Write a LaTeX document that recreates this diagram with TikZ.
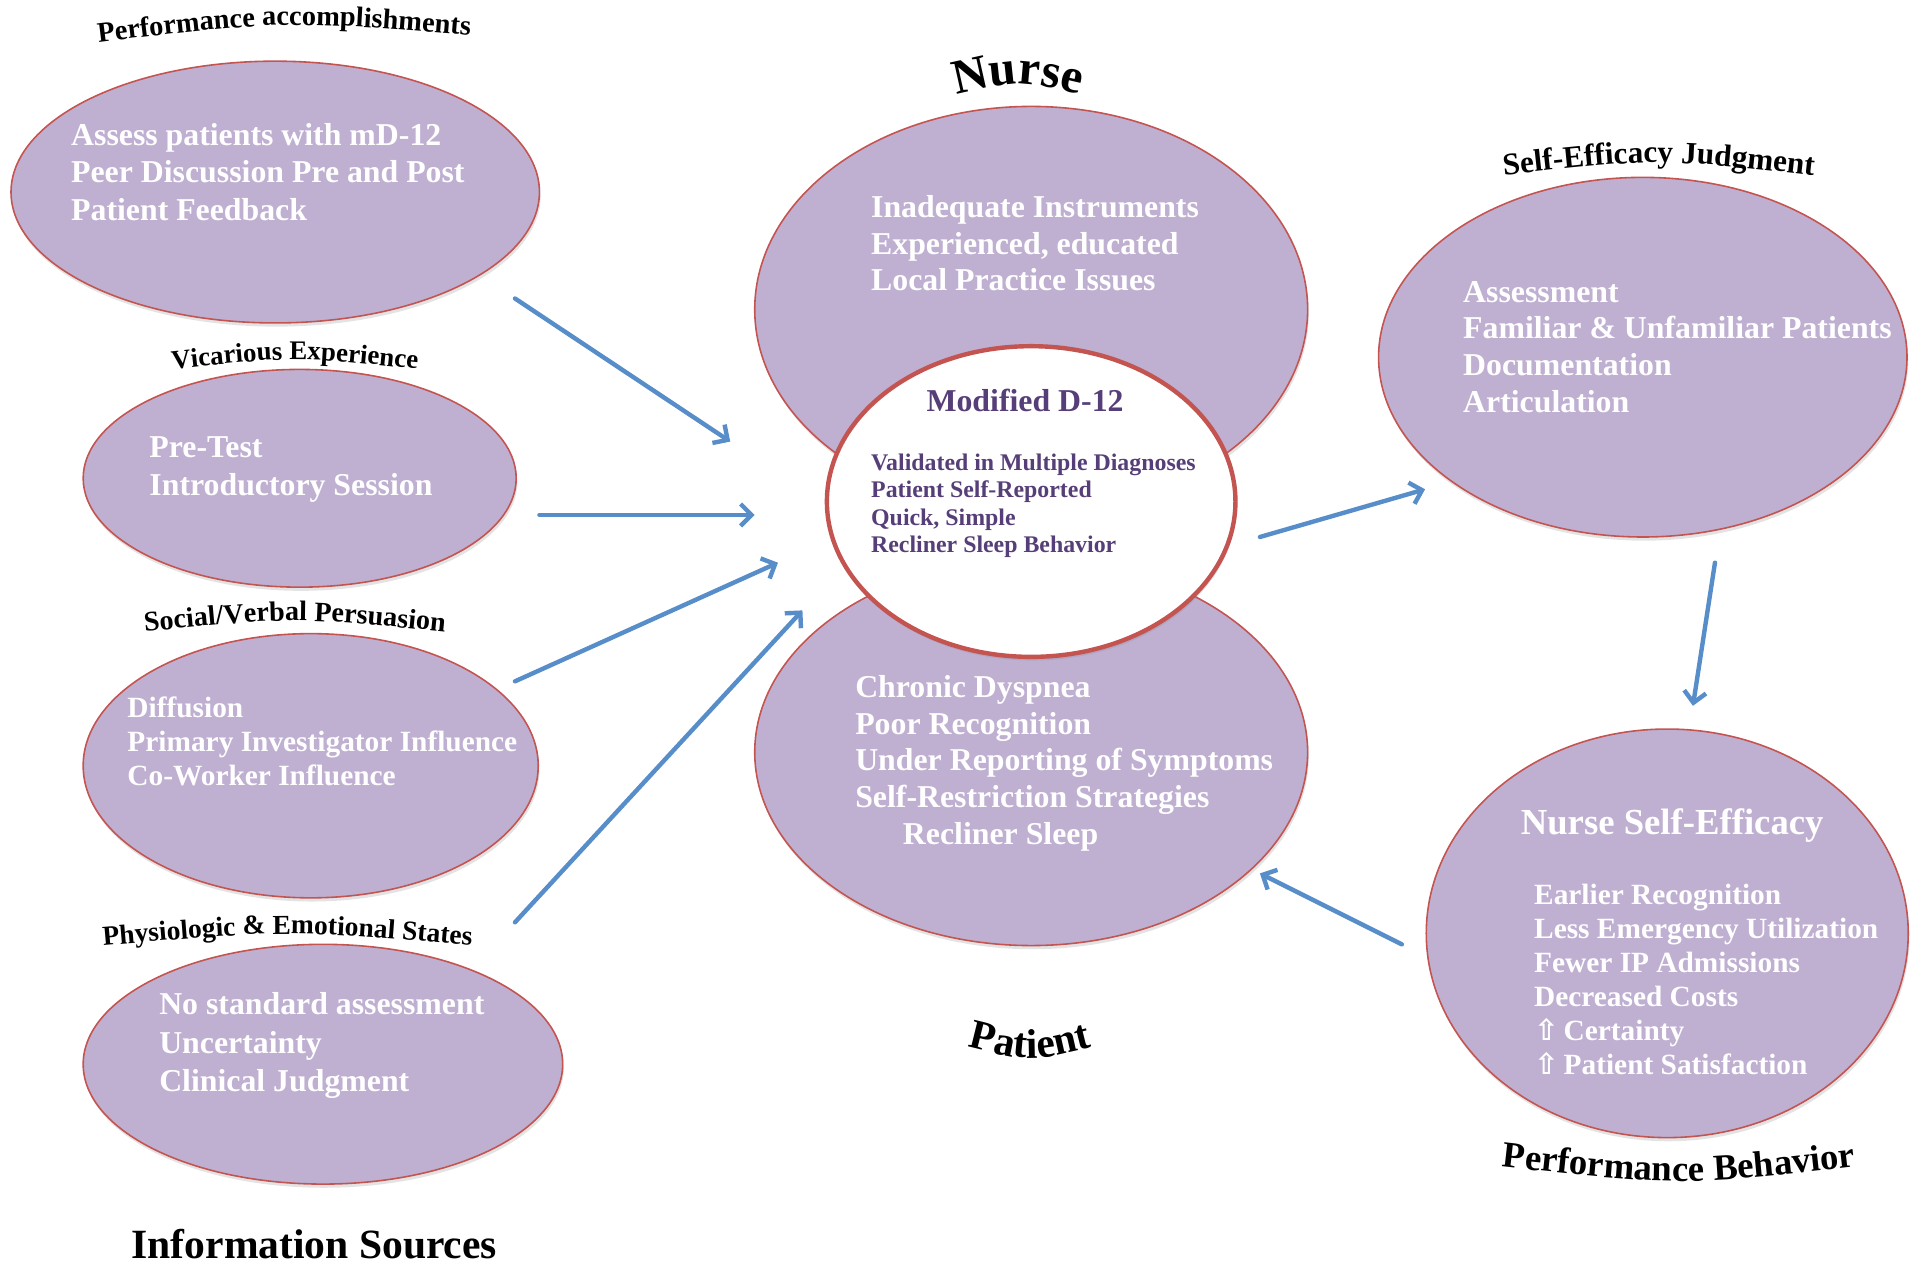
\documentclass[tikz,border=0pt]{standalone}
\usepackage{fontspec}
\setmainfont{Liberation Serif}
\newfontfamily\symfont{DejaVu Sans}
\usetikzlibrary{arrows.meta,shadows,shapes.geometric,decorations.text}
\definecolor{ellfill}{RGB}{191,176,210}
\definecolor{ellline}{RGB}{196,84,80}
\definecolor{arrblue}{RGB}{87,141,201}
\definecolor{dpurple}{RGB}{86,62,120}
\newcommand\up{{\symfont\bfseries ⇧}\,}
\tikzset{
  ell/.style={shape=ellipse, draw=ellline, line width=1.3pt, fill=ellfill, inner sep=0pt,
    drop shadow={shadow xshift=1pt, shadow yshift=-3pt, opacity=0.22}},
  body/.style={text=white, align=left, anchor=west, inner sep=0pt,
    font=\bfseries\fontsize{26}{30.5}\selectfont},
  conn/.style={draw=arrblue, line width=3.6pt, line cap=round,
    -{Straight Barb[length=9pt,width=18pt]}},
  arclab/.style={decorate, decoration={text along path, text align=center, text={#1}}}
}
\begin{document}
\begin{tikzpicture}[x=1pt,y=-1pt]
\useasboundingbox (0,0) rectangle (1568,1034);
\fill[white] (0,0) rectangle (1568,1034);

% left ellipses
\node[ell, minimum width=432pt, minimum height=214pt] (pa) at (225,157) {};
\node[ell, minimum width=354pt, minimum height=178pt] (ve) at (245,391) {};
\node[ell, minimum width=372pt, minimum height=216pt] (sv) at (254,626) {};
\node[ell, minimum width=392pt, minimum height=196pt] (pe) at (264,870) {};

% centre
\node[ell, minimum width=452pt, minimum height=332pt] (nurse) at (843,253) {};
\node[ell, minimum width=452pt, minimum height=316pt] (patient) at (843,615) {};
\node[shape=ellipse, draw=ellline, line width=3.6pt, fill=white, inner sep=0pt,
      minimum width=334pt, minimum height=254pt,
      drop shadow={shadow xshift=1pt, shadow yshift=-3pt, opacity=0.22}] (md) at (843,410) {};

% right
\node[ell, minimum width=432pt, minimum height=294pt] (sej) at (1343,292) {};
\node[ell, minimum width=394pt, minimum height=334pt] (nse) at (1363,763) {};

% texts
\node[body] (tpa) at (58,140.5) {Assess patients with mD-12\\Peer Discussion Pre and Post\\Patient Feedback};
\node[body, font=\bfseries\fontsize{26}{31}\selectfont] (tve) at (122,383.5) {Pre-Test\\Introductory Session};
\node[body, font=\bfseries\fontsize{24}{28}\selectfont] (tsv) at (104,606) {Diffusion\\Primary Investigator Influence\\Co-Worker Influence};
\node[body, font=\bfseries\fontsize{26}{31.5}\selectfont] (tpe) at (130,855) {No standard assessment\\Uncertainty\\Clinical Judgment};
\node[body, font=\bfseries\fontsize{26}{30}\selectfont] (tnurse) at (712,199) {Inadequate Instruments\\Experienced, educated\\Local Practice Issues};
\node[body, font=\bfseries\fontsize{26}{30.2}\selectfont] (tpat) at (699,624) {Chronic Dyspnea\\Poor Recognition\\Under Reporting of Symptoms\\Self-Restriction Strategies\\\hspace*{39pt}Recliner Sleep};
\node[text=dpurple, inner sep=0pt, font=\bfseries\fontsize{26}{30}\selectfont] (mdt) at (838,327) {Modified D-12};
\node[body, text=dpurple, font=\bfseries\fontsize{19.5}{22.3}\selectfont] (tmd) at (712,413.5) {Validated in Multiple Diagnoses\\Patient Self-Reported\\Quick, Simple\\Recliner Sleep Behavior};
\node[body, font=\bfseries\fontsize{26}{30}\selectfont] (tsej) at (1196,283.5) {Assessment\\Familiar \& Unfamiliar Patients\\Documentation\\Articulation};
\node[text=white, inner sep=0pt, font=\bfseries\fontsize{30}{34}\selectfont] (nset) at (1367,675) {Nurse Self-Efficacy};
\node[body, font=\bfseries\fontsize{24}{27.8}\selectfont] (tnse) at (1254,800.5) {Earlier Recognition\\Less Emergency Utilization\\Fewer IP Admissions\\Decreased Costs\\\up Certainty\\\up Patient Satisfaction};

% curved labels
\path[arclab={|\bfseries\fontsize{23.2}{23.2}\selectfont|Performance accomplishments}] (55,38) .. controls (232,16) .. (410,31);
\path[arclab={|\bfseries\fontsize{22}{22}\selectfont|Vicarious Experience}] (130,303) .. controls (241,291) .. (352,303);
\path[arclab={|\bfseries\fontsize{23}{23}\selectfont|Social/Verbal Persuasion}] (105,518) .. controls (241,504) .. (377,518);
\path[arclab={|\bfseries\fontsize{22.5}{22.5}\selectfont|Physiologic {\&} Emotional States}] (73,774) .. controls (235,760) .. (397,774);
\path[arclab={|\bfseries\fontsize{40}{40}\selectfont|Nurse}] (770,80) .. controls (832,65) .. (894,80);
\path[arclab={|\bfseries\fontsize{34}{34}\selectfont|Patient}] (780,853) .. controls (842,869) .. (904,853);
\path[arclab={|\bfseries\fontsize{25.5}{25.5}\selectfont|Self-Efficacy Judgment}] (1215,145) .. controls (1356,129) .. (1497,145);
\path[arclab={|\bfseries\fontsize{30}{30}\selectfont|Performance Behavior}] (1213,952) .. controls (1372,970) .. (1532,952);
\node[anchor=base, inner sep=0pt, font=\bfseries\fontsize{34}{34}\selectfont] (info) at (257,1029) {Information Sources};

% arrows
\coordinate (a1s) at (421,244); \coordinate (a1e) at (597,361);
\coordinate (a2s) at (441,421); \coordinate (a2e) at (617,421);
\coordinate (a3s) at (421,557); \coordinate (a3e) at (636,460);
\coordinate (a4s) at (421,754); \coordinate (a4e) at (656,499);
\coordinate (a5s) at (1030,439); \coordinate (a5e) at (1165,400);
\coordinate (a6s) at (1402,460); \coordinate (a6e) at (1384,577);
\coordinate (a7s) at (1146,772); \coordinate (a7e) at (1030,714);
\draw[conn] (a1s) -- (a1e);
\draw[conn] (a2s) -- (a2e);
\draw[conn] (a3s) -- (a3e);
\draw[conn] (a4s) -- (a4e);
\draw[conn] (a5s) -- (a5e);
\draw[conn] (a6s) -- (a6e);
\draw[conn] (a7s) -- (a7e);
\end{tikzpicture}
\end{document}
